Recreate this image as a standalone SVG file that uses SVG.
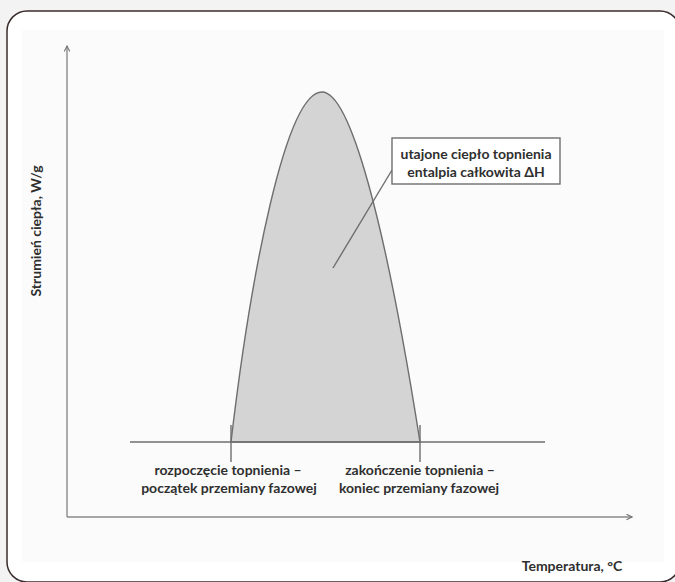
<svg xmlns="http://www.w3.org/2000/svg" width="675" height="582" viewBox="0 0 675 582">
<defs>
<style>
.t{font-family:Lato,"Open Sans","Liberation Sans",sans-serif;font-weight:700;fill:#2f2f2f;font-size:14px;text-anchor:middle}
.axis{stroke:#8a8a8a;stroke-width:1.4;fill:none}
.line{stroke:#6e6e6e;stroke-width:1.4;fill:none}
</style>
<marker id="arr" viewBox="0 0 10 10" refX="9" refY="5" markerWidth="7" markerHeight="7" orient="auto" markerUnits="userSpaceOnUse">
<path d="M1,1 L9,5 L1,9" fill="none" stroke="#777" stroke-width="1.6"/>
</marker>
</defs>
<rect x="0" y="0" width="675" height="582" fill="#f3f3f3"/>
<rect x="7" y="11" width="673" height="571" rx="20" ry="20" fill="#ffffff" stroke="#3a2c2c" stroke-width="1.5"/>
<rect x="22" y="30" width="642" height="532" fill="#fbfbfb"/>
<g id="peak">
<path d="M231,442 C250,280 285,92 322,92 C350,92 385,220 420,442 Z" fill="#d4d4d4" stroke="#6e6e6e" stroke-width="1.4"/>
</g>
<g id="baseline">
<line class="line" x1="130" y1="442" x2="545" y2="442"/>
<line class="line" x1="231" y1="425" x2="231" y2="462"/>
<line class="line" x1="420" y1="425" x2="420" y2="462"/>
</g>
<g id="connectors">
<line class="axis" x1="67" y1="517" x2="67" y2="46" marker-end="url(#arr)"/>
<line class="axis" x1="67" y1="517" x2="632" y2="517" marker-end="url(#arr)"/>
<line class="line" x1="333" y1="268" x2="392" y2="170"/>
</g>
<g id="label-box">
<rect x="392" y="138" width="168" height="46" fill="#ffffff" stroke="#6e6e6e" stroke-width="1.4"/>
<text class="t" x="476" y="159">utajone ciepło topnienia</text>
<text class="t" x="476" y="177">entalpia całkowita ΔH</text>
</g>
<g id="start-label">
<text class="t" x="228" y="475">rozpoczęcie topnienia –</text>
<text class="t" x="229" y="493">początek przemiany fazowej</text>
</g>
<g id="end-label">
<text class="t" x="420" y="475">zakończenie topnienia –</text>
<text class="t" x="419" y="493">koniec przemiany fazowej</text>
</g>
<g id="y-label">
<text class="t" transform="translate(41,231) rotate(-90)">Strumień ciepła, W/g</text>
</g>
<g id="x-label">
<text class="t" x="572" y="571">Temperatura, °C</text>
</g>
</svg>
